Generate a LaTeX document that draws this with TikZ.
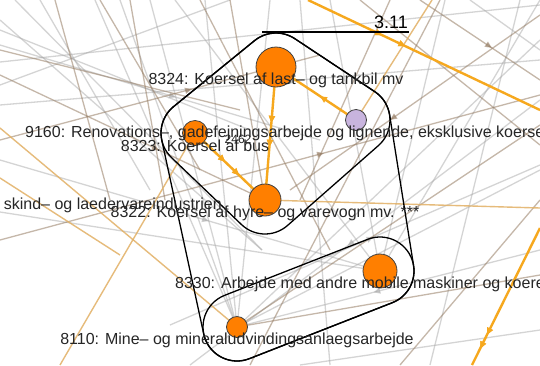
\documentclass[tikz,border=0pt]{standalone}
\usepackage{fontspec}
\setmainfont{Liberation Sans}
\usetikzlibrary{decorations.markings,arrows.meta}

\definecolor{nodeorange}{RGB}{255,127,0}
\definecolor{lav}{RGB}{200,180,222}
\definecolor{edgeorange}{RGB}{246,168,30}
\definecolor{goldline}{RGB}{226,176,100}
\definecolor{brownline}{RGB}{150,125,100}
\definecolor{grayline}{RGB}{170,170,170}

\tikzset{
  bgray/.style={color=grayline, line width=1.3pt, opacity=0.5},
  bbrown/.style={color=brownline, line width=1.3pt, opacity=0.55},
  bgold/.style={color=goldline, line width=1.4pt, opacity=0.85},
  oedge/.style={color=edgeorange, line width=2.4pt},
  arrowat/.style={postaction={decorate}, decoration={markings,
      mark=at position #1 with {\arrow{Triangle[length=7pt,width=6pt]}}}},
  arrowat/.default=0.5,
  vert/.style={circle, draw=black!75, line width=0.8pt, inner sep=0pt, minimum size=#1},
  lab/.style={font=\fontsize{16}{17}\selectfont, text=black!85, inner sep=0pt},
  smalllab/.style={font=\fontsize{12}{13}\selectfont, text=black!85, inner sep=0pt},
  hull/.style={draw=black, line width=1.3pt},
}

\begin{document}
\begin{tikzpicture}[x=1pt,y=-1pt]
\useasboundingbox (0,0) rectangle (540,365);
\fill[white] (0,0) rectangle (540,365);
\clip (0,0) rectangle (540,365);

% positions
\coordinate (c8324) at (276,67);
\coordinate (c8323) at (195,133);
\coordinate (c8322) at (265,200);
\coordinate (c9160) at (356,120);
\coordinate (c8330) at (380,271);
\coordinate (c8110) at (237,327);

% free ends of the background edges
\foreach \n/\x/\y in {a1/0/45, a2/320/140, a3/0/62, a4/540/5, a5/15/0, a6/262/250,
  a7/95/0, a8/150/0, a9/205/0, a10/270/0, a11/0/105, a12/540/60, a13/0/160,
  a14/175/0, a15/330/0, a16/445/0, a17/540/40, a18/540/100, a19/190/365,
  a20/540/170, a21/170/325, a22/540/165, a23/520/0, a24/430/365, a25/540/250,
  a26/540/330, a27/300/365, a28/300/0, a29/330/365, a30/470/0, a31/540/50,
  a32/540/0, a33/0/212, a34/0/20, a35/120/0, a36/40/0, a37/150/190,
  a38/0/85, a39/230/0, a40/0/30, a41/250/130,
  b1/55/0, b2/110/200, b3/130/0, b4/165/200, b5/0/140, b6/320/55, b7/250/365,
  b8/440/0, b9/390/0, b10/300/200, b11/540/15, b12/290/190, b13/540/125,
  b14/200/0, b15/330/250, b16/0/240, b17/540/95, b18/400/365, b19/540/200,
  b20/540/275, b21/420/0, b22/540/80, b23/360/0, b24/540/145, b25/0/75, b26/230/0,
  b27/0/50, b28/240/110, b29/100/0, b30/200/170,
  o1/0/128, o2/60/365, o3/540/208, o4/432/0, o5/0/178, o6/120/255,
  o7/308/0, o8/540/110, o9/540/228, o10/472/365}
  {\coordinate (\n) at (\x,\y);}

% light gray edges
\foreach \s/\t in {a1/a2, a3/a4, a5/a6, a7/c8110, a8/c8110, a9/c8110, a10/c8110,
  a11/a12, a13/c8330, a14/c8330, a15/c8330, a16/c8330, a17/c8110, a18/a19,
  a20/c8110, a21/a22, a23/a24, a25/c8110, a26/a27, a28/a29, a30/a31, a32/c8330,
  a33/c8330, a34/a6, a35/c8110, a36/a37, a38/a39, a40/a41}
  {\draw[bgray] (\s) -- (\t);}
\foreach \s/\t in {a1/a2, a11/a12, a21/a22, a18/a19, a13/c8330, a25/c8110}
  {\path[bgray, arrowat=0.55] (\s) -- (\t);}

% brownish edges
\foreach \s/\t in {b1/b2, b3/b4, b5/b6, b7/b8, b9/b10, b11/b12, b13/c8110,
  b14/b15, b16/b17, b18/b19, b20/c8110, b21/b22, b23/b24, b25/c8322, b26/c8322,
  b27/b28, b29/b30}
  {\draw[bbrown] (\s) -- (\t);}
\foreach \s/\t in {b5/b6, b11/b12, b16/b17, b21/b22, b25/c8322}
  {\path[bbrown, arrowat=0.6] (\s) -- (\t);}

% light orange edges
\draw[bgold] (o1) -- (c8110);
\draw[bgold] (c8323) -- (o2);
\draw[bgold] (c8322) -- (o3);
\draw[bgold] (c9160) -- (o4);
\draw[bgold] (o5) -- (o6);

% strong orange edges
\draw[oedge, arrowat=0.32, arrowat=0.42] (o7) -- (o8);
\draw[oedge, arrowat=0.78, arrowat=0.88] (o9) -- (o10);
\draw[oedge, arrowat=0.45] (c9160) -- (c8324);
\draw[oedge, arrowat=0.42, arrowat=0.6] (c8324) -- (c8322);
\draw[oedge, arrowat=0.43, arrowat=0.63] (c8323) -- (c8322);

% group outlines
\draw[hull]
  plot[domain=-129.2:-56.5,samples=14] ({276+34*cos(\x)},{67+34*sin(\x)})
  -- plot[domain=-56.5:48.7,samples=18] ({356+34*cos(\x)},{120+34*sin(\x)})
  -- plot[domain=48.7:133.7,samples=16] ({265+34*cos(\x)},{200+34*sin(\x)})
  -- plot[domain=133.7:230.8,samples=16] ({195+34*cos(\x)},{133+34*sin(\x)})
  -- cycle;
\draw[hull]
  plot[domain=-129.2:-56.5,samples=14] ({276+34*cos(\x)},{67+34*sin(\x)})
  -- plot[domain=-56.5:-9,samples=10] ({356+34*cos(\x)},{120+34*sin(\x)})
  -- plot[domain=-9:68.6,samples=16] ({380+34*cos(\x)},{271+34*sin(\x)})
  -- plot[domain=68.6:167.8,samples=18] ({237+34*cos(\x)},{327+34*sin(\x)})
  -- plot[domain=167.8:230.8,samples=12] ({195+34*cos(\x)},{133+34*sin(\x)})
  -- cycle;
\draw[hull]
  plot[domain=-111.4:68.6,samples=30] ({380+34*cos(\x)},{271+34*sin(\x)})
  -- plot[domain=68.6:248.6,samples=30] ({237+34*cos(\x)},{327+34*sin(\x)})
  -- cycle;

% group tag
\coordinate (tagL) at (262,32);
\coordinate (tagR) at (409,32);
\draw[line width=1.3pt] (tagL) -- (tagR);
\node[font=\fontsize{18}{18}\selectfont, inner sep=0pt, anchor=south east] (tag) at (408,29) {3.11};

% vertices
\node[vert=40pt, fill=nodeorange] (n8324) at (c8324) {};
\node[vert=25pt, fill=nodeorange] (n8323) at (c8323) {};
\node[vert=32pt, fill=nodeorange] (n8322) at (c8322) {};
\node[vert=21pt, fill=lav] (n9160) at (c9160) {};
\node[vert=34pt, fill=nodeorange] (n8330) at (c8330) {};
\node[vert=21pt, fill=nodeorange] (n8110) at (c8110) {};

% labels
\node[lab] (l8324) at (276,80) {8324: Koersel af last– og tankbil mv};
\node[lab, anchor=west] (l9160) at (25,133) {9160: Renovations–, gadefejningsarbejde og lignende, eksklusive koersel};
\node[smalllab] (l2462) at (238,139) {2462};
\node[lab] (l8323) at (195,146) {8323: Koersel af bus};
\node[lab, anchor=east] (lskind) at (222,205) {skind– og laedervareindustrien};
\node[lab] (l8322) at (265,213) {8322: Koersel af hyre– og varevogn mv. ***};
\node[lab] (l8330) at (380,284) {8330: Arbejde med andre mobile maskiner og koeretoejer};
\node[lab] (l8110) at (237,340) {8110: Mine– og mineraludvindingsanlaegsarbejde};
\end{tikzpicture}
\end{document}
